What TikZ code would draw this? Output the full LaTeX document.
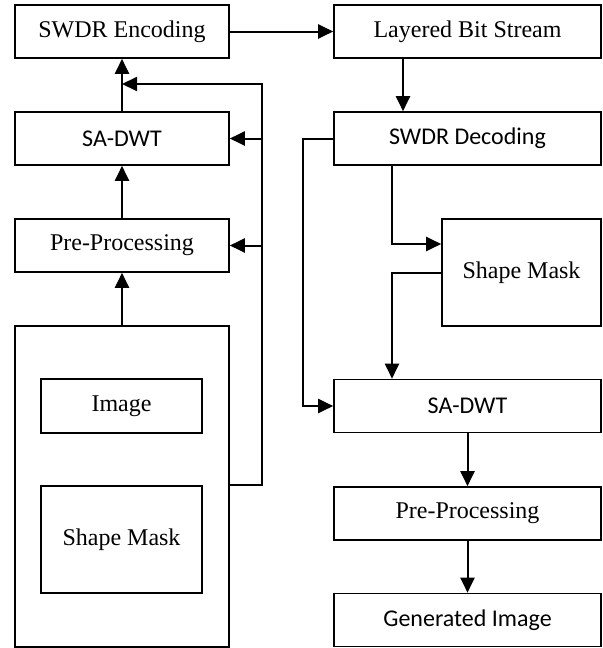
\documentclass[tikz,border=0pt]{standalone}
\usepackage{fontspec}
\setmainfont{Liberation Serif}
\newfontfamily\calibri{Carlito}
\usetikzlibrary{arrows.meta, positioning}

\begin{document}
\begin{tikzpicture}[x=0.5pt, y=-0.5pt, every node/.style={font=\fontsize{12}{14}\selectfont},
		box/.style={draw, line width=0.8pt, minimum width=107pt, minimum height=26.5pt, inner sep=0pt},
		wide/.style={box, minimum width=133.5pt},
		sans/.style={font=\calibri\fontsize{12}{14}\selectfont},
		arr/.style={line width=1pt, -{Triangle[length=7.5pt, width=7pt]}},
		ln/.style={line width=1pt}]
		\useasboundingbox (0,0) rectangle (603,648);
		% encoder side
		\node[box] (enc) at (122,31.5) {SWDR Encoding};
		\node[box, sans] (lsadwt) at (122,138.5) {SA-DWT};
		\node[box] (lpre) at (122,245.5) {Pre-Processing};
		\node[box, minimum height=160.5pt] (src) at (122,486.5) {};
		\node[box, minimum width=80.5pt, minimum height=27pt] (img) at (121.5,406) {Image};
		\node[box, minimum width=80.5pt, minimum height=53.5pt] (lmask) at (121.5,539.5) {Shape Mask};
		% decoder side
		\node[wide] (lbs) at (467.5,31.5) {Layered Bit Stream};
		\node[wide, sans] (dec) at (467.5,138.5) {SWDR Decoding};
		\node[box, minimum width=79.5pt, minimum height=53.5pt] (rmask) at (521.5,272.5) {Shape Mask};
		\node[wide, sans] (rsadwt) at (467.5,406) {SA-DWT};
		\node[wide] (rpre) at (467.5,513.5) {Pre-Processing};
		\node[wide, sans] (gen) at (467.5,620) {Generated Image};

		\coordinate (bus) at (262,0);
		\coordinate (joint) at (122,84);
		\coordinate (tap) at (392,0);
		\coordinate (loop) at (303,0);

		\draw[arr] (src.north) -- (lpre.south);
		\draw[arr] (lpre.north) -- (lsadwt.south);
		\draw[arr] (lsadwt.north) -- (enc.south);
		\draw[arr] (src.east |- lmask.north) -| (bus |- joint) -- (joint);
		\draw[arr] (bus |- lsadwt.east) -- (lsadwt.east);
		\draw[arr] (bus |- lpre.east) -- (lpre.east);
		\draw[arr] (enc.east) -- (lbs.west);

		\draw[arr] ([xshift=-32.25pt]lbs.south) -- ([xshift=-32.25pt]dec.north);
		\draw[arr] (dec.south -| tap) |- ([yshift=14.25pt]rmask.west);
		\draw[arr] (rmask.west) -| (tap |- rsadwt.north);
		\draw[arr] (dec.west) -| (loop |- rsadwt.west) -- (rsadwt.west);
		\draw[arr] (rsadwt.south) -- (rpre.north);
		\draw[arr] (rpre.south) -- (gen.north);
	\end{tikzpicture}
\end{document}
